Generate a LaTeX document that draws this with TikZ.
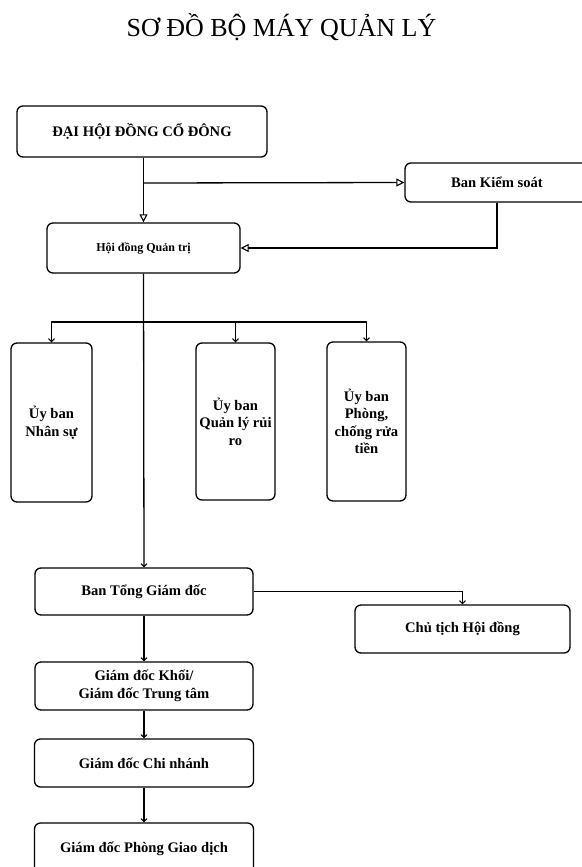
\documentclass[tikz,border=0pt]{standalone}
\usepackage{fontspec}
\setmainfont{Liberation Serif}
\usetikzlibrary{arrows.meta,positioning}
\tikzset{
  box/.style={draw=black, line width=1.3pt, rounded corners=6pt, inner sep=0pt, align=center,
    font=\bfseries\fontsize{14.6}{17.5}\selectfont},
  conn/.style={draw=black, line width=1.3pt},
  openarrow/.style={conn, -{Triangle[open,length=8pt,width=8pt,line width=1.1pt]}},
  smallarrow/.style={conn, -{Straight Barb[length=3pt,width=6pt,line width=1pt]}},
  titletext/.style={font=\fontsize{26}{30}\selectfont, anchor=base}
}
\begin{document}
\begin{tikzpicture}[x=1pt,y=-1pt]
\useasboundingbox (0,0) rectangle (581,867);
\node[titletext] (title) at (281.5,37) {SƠ ĐỒ BỘ MÁY QUẢN LÝ};

\node[box, minimum width=250pt, minimum height=51pt] (dh) at (142,131.5) {ĐẠI HỘI ĐỒNG CỔ ĐÔNG};
\node[box, minimum width=184pt, minimum height=39pt] (bks) at (497,182.5) {Ban Kiểm soát};
\node[box, minimum width=193pt, minimum height=50pt, font=\bfseries\fontsize{12}{14}\selectfont] (hdqt) at (143.5,248) {Hội đồng Quản trị};

\node[box, minimum width=81pt, minimum height=159pt] (ns) at (51.5,422.5) {Ủy ban\\Nhân sự};
\node[box, minimum width=79pt, minimum height=157pt] (ql) at (235.5,421.5) {Ủy ban\\Quản lý rủi\\ro};
\node[box, minimum width=79pt, minimum height=159pt] (pc) at (366.5,421.5) {Ủy ban\\Phòng,\\chống rửa\\tiền};

\node[box, minimum width=218pt, minimum height=47pt] (btgd) at (144,591.5) {Ban Tổng Giám đốc};
\node[box, minimum width=215pt, minimum height=48pt] (ct) at (462.5,629) {Chủ tịch Hội đồng};
\node[box, minimum width=218pt, minimum height=48pt] (gdk) at (144,686) {Giám đốc Khối/\\Giám đốc Trung tâm};
\node[box, minimum width=219pt, minimum height=48pt] (gdcn) at (144,763) {Giám đốc Chi nhánh};
\node[box, minimum width=219pt, minimum height=52pt] (gdpgd) at (144,849) {Giám đốc Phòng Giao dịch};

\coordinate (k1) at (144,183);
\coordinate (br) at (144,322);

\draw[openarrow] (dh.south -| hdqt.north) -- (hdqt.north);
\draw[openarrow] (k1) -- (bks.west);
\draw[openarrow] (bks.south) |- (hdqt.east);

\draw[smallarrow] (hdqt.south) -- (btgd.north);
\draw[smallarrow] (br) -| (ns.north);
\draw[smallarrow] (br) -| (ql.north);
\draw[smallarrow] (br) -| (pc.north);

\draw[smallarrow] (btgd.east) -| (ct.north);
\draw[smallarrow] (btgd.south) -- (gdk.north);
\draw[smallarrow] (gdk.south) -- (gdcn.north);
\draw[smallarrow] (gdcn.south) -- (gdpgd.north);
\end{tikzpicture}
\end{document}
